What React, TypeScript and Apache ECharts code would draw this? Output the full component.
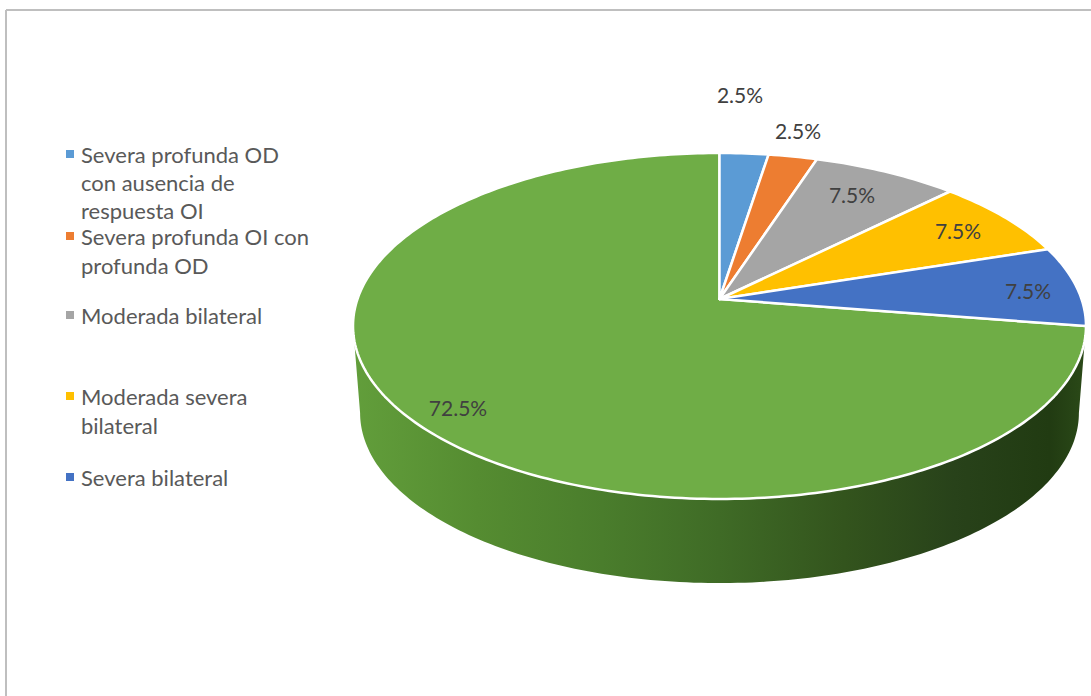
import React, { useEffect, useRef } from "react";
import * as echarts from "echarts";

// Shares of each hearing-loss group, in percent, clockwise from twelve o'clock.
const categories = [
  "Severa profunda OD\ncon ausencia de\nrespuesta OI",
  "Severa profunda OI con\nprofunda OD",
  "Moderada bilateral",
  "Moderada severa\nbilateral",
  "Severa bilateral",
  "Otros",
];
const shares = [2.5, 2.5, 7.5, 7.5, 7.5, 72.5];
const sliceColors = ["#5B9BD5", "#ED7D31", "#A5A5A5", "#FFC000", "#4472C4", "#6FAD46"];

// Layout: where each percentage label sits, and the height and leading of each legend key.
const labelCentres = [
  [740, 94],
  [798, 130],
  [852, 194],
  [958, 230],
  [1028, 290],
  [458, 407],
];
const legendKeyY = [154, 236, 315, 396, 477];
const legendLeading = [28, 29, 29, 29, 29];

const FONT = "Lato, Carlito, 'Open Sans', sans-serif";

// Perspective projection of the disc: the near half of the rim looks larger than the far half.
const TILT = 0.156;
const CENTRE_X = 719.5;
const topDisc = { y0: 299, rx: 362, ry: 168.8 };
const baseDisc = { y0: 386.4, rx: 355, ry: 166 };

// Rim angles at which the projected disc is widest; the wall's silhouette runs through them.
const RIGHT_EXTREME = (Math.acos(-TILT) * 180) / Math.PI;
const LEFT_EXTREME = 360 - RIGHT_EXTREME;

type Disc = typeof topDisc;

function rimPoint(disc: Disc, deg: number): number[] {
  const a = (deg * Math.PI) / 180;
  const u = Math.sin(a);
  const v = Math.cos(a);
  const d = 1 + TILT * v;
  return [CENTRE_X + (disc.rx * u) / d, disc.y0 - (disc.ry * v) / d];
}

function rimArc(disc: Disc, from: number, to: number): number[][] {
  const steps = Math.max(2, Math.ceil(to - from));
  const pts: number[][] = [];
  for (let i = 0; i <= steps; i++) pts.push(rimPoint(disc, from + ((to - from) * i) / steps));
  return pts;
}

const wallFill = {
  type: "linear",
  x: 353,
  y: 0,
  x2: 1086,
  y2: 0,
  global: true,
  colorStops: [
    { offset: 0, color: "#629E3B" },
    { offset: 0.17, color: "#558C31" },
    { offset: 0.34, color: "#4A7D2C" },
    { offset: 0.5, color: "#3F6B26" },
    { offset: 0.67, color: "#33541D" },
    { offset: 0.82, color: "#28421A" },
    { offset: 0.95, color: "#213B12" },
    { offset: 1, color: "#2B4A18" },
  ],
};

const total = shares.reduce((a, b) => a + b, 0);
const startShares = shares.map((_, i) => shares.slice(0, i).reduce((a, b) => a + b, 0));

function buildSlice(index: number) {
  return {
    type: "custom",
    name: categories[index],
    coordinateSystem: "none",
    silent: true,
    z: index === 5 ? 1 : 2,
    itemStyle: { color: sliceColors[index] },
    data: [[shares[index]]],
    renderItem: (_params: unknown, api: { value: (d: number) => number }) => {
      const value = api.value(0);
      const from = (startShares[index] / total) * 360;
      const to = from + (value / total) * 360;
      const rim = rimArc(topDisc, from, to);
      const children: object[] = [];
      // Only the large near-side slice shows its outer wall.
      if (to > 180) {
        const wallStart = Math.max(from, RIGHT_EXTREME);
        const wallEnd = Math.min(to, LEFT_EXTREME);
        const wallTop = rimArc(topDisc, wallStart, wallEnd);
        const wallBase = rimArc(baseDisc, wallStart, wallEnd).reverse();
        children.push({
          type: "polygon",
          shape: { points: [...wallTop, ...wallBase] },
          style: { fill: wallFill },
        });
      }
      children.push({
        type: "polygon",
        shape: { points: [[CENTRE_X, topDisc.y0], ...rim] },
        style: { fill: sliceColors[index], stroke: "#FFFFFF", lineWidth: 2.5, lineJoin: "round" },
      });
      children.push({
        type: "text",
        x: labelCentres[index][0],
        y: labelCentres[index][1],
        style: {
          text: `${value.toFixed(1)}%`,
          fill: "#404040",
          font: `21px ${FONT}`,
          align: "center",
          verticalAlign: "middle",
        },
      });
      return { type: "group", children };
    },
  };
}

// Legend texts are centred on their key, so wrapped names get leading blank lines
// to keep the key level with their first line.
function extraLines(name: string): number {
  return name.split("\n").length - 1;
}

export default function App() {
  const ref = useRef<HTMLDivElement>(null);

  useEffect(() => {
    if (!ref.current) return;
    const chart = echarts.init(ref.current, undefined, { renderer: "svg" });
    chart.setOption({
      animation: false,
      backgroundColor: "#FFFFFF",
      legend: legendKeyY.map((keyY, i) => {
        const extra = extraLines(categories[i]);
        const leading = legendLeading[i];
        return {
          show: true,
          data: [categories[i]],
          left: 66,
          top: keyY - leading / 2 - extra * leading,
          padding: 0,
          icon: "rect",
          itemWidth: 8,
          itemHeight: 8,
          selectedMode: false,
          formatter: (name: string) => "\n".repeat(extra) + name,
          textStyle: {
            fontFamily: FONT,
            fontSize: 22,
            color: "#595959",
            lineHeight: leading,
            padding: [0, 0, 0, 2],
          },
        };
      }),
      graphic: [
        {
          type: "line",
          shape: { x1: 6, y1: 10, x2: 1091, y2: 10 },
          style: { stroke: "#BFBFBF", lineWidth: 2 },
        },
        {
          type: "line",
          shape: { x1: 6, y1: 10, x2: 6, y2: 696 },
          style: { stroke: "#BFBFBF", lineWidth: 2 },
        },
      ],
      series: shares.map((_, i) => buildSlice(i)),
    });
    return () => chart.dispose();
  }, []);

  return <div ref={ref} style={{ position: "fixed", left: 0, top: 0, width: 1091, height: 696 }} />;
}
